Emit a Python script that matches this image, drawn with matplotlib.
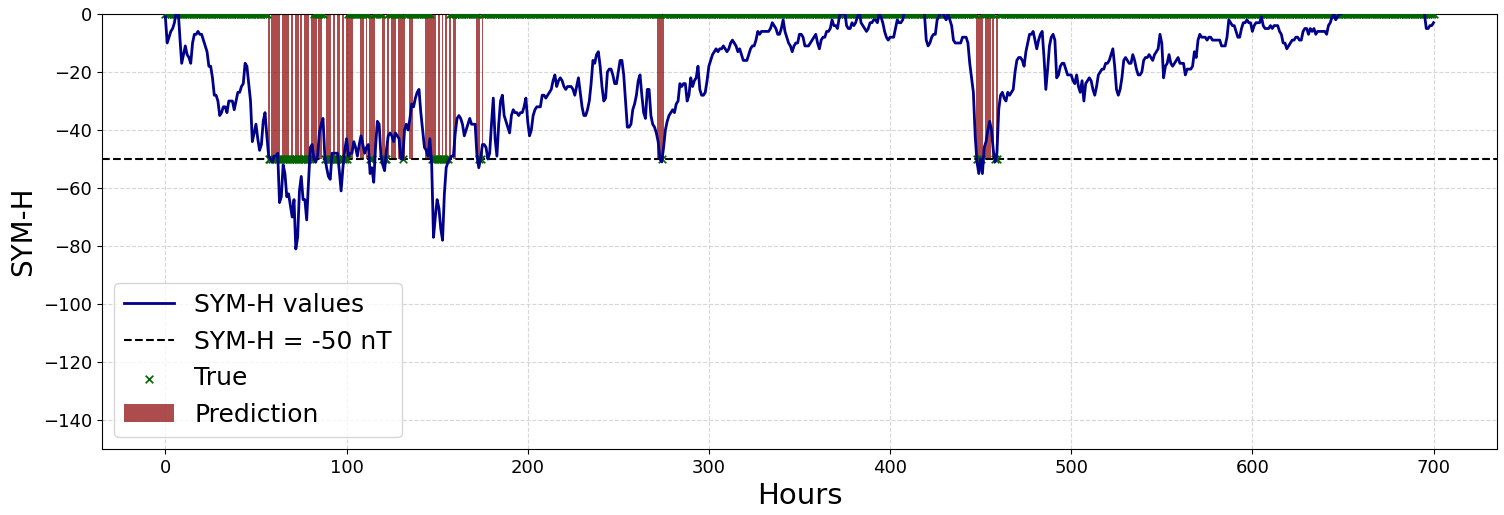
import numpy as np
import matplotlib
matplotlib.use('Agg')
import matplotlib.pyplot as plt

# valores SYM-H por hora (0..700)
sym_h = [
    -1, -10, -8, -6, -5, -3, 1, 2, -8, -17,
    -14, -11, -14, -15, -17, -10, -7, -7, -6, -7,
    -7, -9, -11, -13, -18, -18, -22, -28, -28, -30,
    -35, -34, -32, -32, -34, -30, -30, -30, -33, -30,
    -27, -27, -25, -24, -17, -18, -24, -30, -44, -41,
    -38, -43, -47, -45, -37, -34, -42, -49, -50, -51,
    -49, -49, -48, -65, -63, -52, -55, -63, -62, -66,
    -70, -64, -81, -77, -61, -56, -64, -64, -71, -58,
    -46, -45, -50, -51, -49, -41, -38, -36, -49, -53,
    -56, -57, -48, -48, -48, -48, -54, -61, -53, -47,
    -43, -49, -48, -48, -44, -46, -49, -45, -42, -45,
    -48, -46, -45, -55, -53, -58, -46, -37, -38, -49,
    -52, -54, -47, -42, -41, -42, -44, -41, -42, -43,
    -50, -50, -40, -38, -40, -36, -31, -32, -29, -27,
    -26, -34, -40, -46, -47, -49, -43, -52, -77, -70,
    -64, -67, -74, -78, -62, -53, -51, -50, -49, -49,
    -41, -36, -35, -36, -38, -42, -40, -38, -36, -38,
    -38, -38, -49, -53, -50, -45, -45, -46, -50, -48,
    -38, -29, -43, -49, -38, -30, -28, -35, -37, -39,
    -41, -35, -33, -34, -34, -35, -34, -34, -32, -29,
    -37, -42, -40, -35, -33, -32, -32, -32, -28, -28,
    -29, -28, -27, -26, -23, -21, -25, -23, -22, -23,
    -25, -26, -25, -25, -25, -26, -28, -25, -22, -27,
    -32, -35, -35, -33, -30, -24, -16, -17, -14, -13,
    -18, -25, -30, -29, -20, -19, -19, -21, -24, -24,
    -20, -16, -16, -21, -30, -39, -39, -38, -33, -31,
    -28, -23, -21, -28, -34, -36, -26, -26, -35, -38,
    -39, -41, -44, -50, -51, -46, -40, -37, -35, -34,
    -33, -34, -31, -30, -24, -25, -24, -24, -30, -28,
    -22, -25, -23, -22, -18, -26, -28, -28, -27, -23,
    -18, -16, -14, -13, -12, -13, -12, -12, -11, -12,
    -13, -12, -10, -9, -10, -11, -13, -12, -14, -16,
    -16, -16, -14, -12, -11, -11, -9, -6, -7, -6,
    -6, -6, -6, -6, -5, -3, -4, -5, -7, -7,
    -5, -2, -6, -8, -10, -11, -13, -11, -10, -10,
    -7, -7, -8, -11, -11, -11, -10, -9, -8, -7,
    -10, -12, -9, -8, -8, -6, -6, -5, -2, -4,
    -4, -5, -1, 1, 0, 1, -4, -5, -5, -3,
    -4, -3, -1, 1, -3, -4, -5, -6, -5, -3,
    -3, -2, -2, -3, 0, -1, -3, -6, -8, -9,
    -8, -8, -8, -5, -2, -3, -3, -2, 1, 2,
    3, 4, 2, 3, 5, 4, 2, 3, 2, 0,
    -9, -11, -10, -8, -7, -7, -2, -1, 1, 1,
    -1, -2, 0, -2, -4, -9, -10, -10, -10, -10,
    -8, -8, -8, -10, -17, -22, -27, -42, -51, -55,
    -50, -55, -46, -44, -40, -37, -40, -47, -51, -48,
    -33, -28, -27, -29, -30, -27, -28, -27, -26, -20,
    -16, -15, -15, -16, -18, -13, -10, -7, -7, -6,
    -9, -12, -9, -7, -6, -15, -26, -19, -11, -8,
    -7, -9, -22, -21, -18, -17, -17, -19, -21, -21,
    -21, -23, -24, -21, -25, -27, -23, -30, -24, -23,
    -22, -23, -26, -28, -25, -21, -20, -19, -19, -17,
    -17, -16, -14, -12, -18, -26, -28, -26, -22, -16,
    -15, -16, -17, -17, -14, -16, -19, -21, -21, -20,
    -16, -15, -15, -14, -15, -16, -14, -13, -12, -7,
    -10, -22, -18, -17, -14, -17, -18, -17, -16, -15,
    -17, -17, -17, -21, -19, -19, -19, -18, -13, -15,
    -9, -7, -8, -8, -8, -9, -8, -8, -9, -9,
    -9, -9, -9, -11, -11, -11, -8, -2, -3, -4,
    -4, -6, -8, -8, -5, -3, -3, -2, -3, -3,
    -6, -4, -3, -3, -3, -1, -4, -5, -5, -5,
    -4, -5, -4, -4, -4, -6, -7, -10, -10, -12,
    -11, -10, -9, -9, -8, -8, -9, -9, -6, -5,
    -5, -7, -5, -6, -5, -7, -6, -6, -6, -6,
    -6, -7, -4, -3, -1, 0, -2, -1, 0, 0,
    1, 3, 5, 4, 6, 8, 7, 5, 6, 9,
    10, 8, 7, 9, 11, 10, 8, 6, 7, 9,
    8, 6, 5, 7, 9, 8, 6, 4, 5, 7,
    8, 6, 5, 4, 6, 7, 5, 3, 4, 5,
    4, 3, 2, 3, 1, 0, -5, -5, -4, -4,
    -3,
]

# horas con tormenta real (inicio, fin inclusive)
true_ranges = [(57, 81), (88, 100), (113, 114), (120, 122), (131, 131),
               (147, 156), (173, 174), (274, 274), (448, 450), (458, 459)]

# horas donde el modelo predice tormenta
pred_hours = [57, 59, 60, 61, 62, 63, 65, 66, 67, 68, 70, 72, 73, 75, 77, 78,
              79, 81, 82, 83, 85, 86, 89, 90, 91, 93, 95, 96, 98, 100, 101,
              102, 103, 108, 109, 111, 113, 114, 115, 120, 121, 123, 125, 126,
              127, 129, 130, 131, 132, 135, 136, 144, 145, 146, 147, 148, 149,
              151, 153, 155, 157, 159, 160, 172, 173, 175, 272, 273, 274, 275,
              448, 449, 450, 451, 453, 454, 455, 457, 459]

umbral = -50

horas = np.arange(len(sym_h))
true_mask = np.zeros(len(sym_h), dtype=bool)
for a, b in true_ranges:
    true_mask[a:b + 1] = True
true_y = np.where(true_mask, umbral, 0)

fig = plt.figure(figsize=(15.04, 5.15), dpi=100)
ax = fig.add_axes([0.0678, 0.128, 0.9275, 0.8448])

ax.plot(horas, sym_h, color='darkblue', lw=2, label='SYM-H values', zorder=4)
ax.axhline(umbral, color='black', ls='--', lw=1.5, label='SYM-H = -50 nT', zorder=3)
ax.scatter(horas, true_y, marker='x', color='darkgreen', s=30, lw=1.2,
           label='True', zorder=3)
ax.bar(pred_hours, umbral, width=1.0, color='darkred', alpha=0.7,
       label='Prediction', zorder=2)

ax.set_ylim(-150, 0)
ax.set_xlabel('Hours', fontsize=21)
ax.set_ylabel('SYM-H', fontsize=20)
ax.tick_params(labelsize=13)
ax.grid(True, ls='--', color='lightgray', alpha=0.9)
ax.legend(loc='lower left', fontsize=18)

fig.savefig('out.png', dpi=100)
